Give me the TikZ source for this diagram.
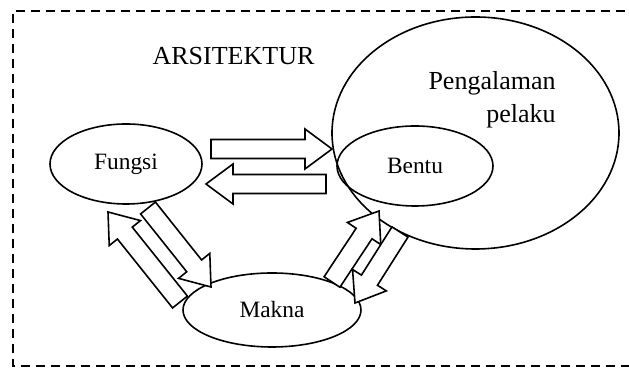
\documentclass[tikz,border=0pt]{standalone}
\usepackage{fontspec}
\setmainfont{Liberation Serif}
\usetikzlibrary{calc,shapes.geometric}

\tikzset{
  elips/.style={draw, ellipse, line width=0.8pt, inner sep=0pt},
  panah/.style={draw, fill=white, line width=0.8pt, line join=miter},
  bingkai/.style={line width=0.7pt, dash pattern=on 4.5pt off 3pt},
  teks/.style={font=\fontsize{11.7}{15}\selectfont, inner sep=0pt},
  judul/.style={font=\fontsize{13}{16.5}\selectfont, inner sep=0pt}
}

% block arrow from #1 to #2
\newcommand{\panahblok}[2]{%
  \coordinate (kepala) at ($(#2)!13.5pt!(#1)$);
  \draw[panah] ($(#1)!4.75pt!90:(#2)$) -- ($(kepala)!4.75pt!90:(#2)$)
    -- ($(kepala)!10pt!90:(#2)$) -- (#2) -- ($(kepala)!10pt!-90:(#2)$)
    -- ($(kepala)!4.75pt!-90:(#2)$) -- ($(#1)!4.75pt!-90:(#2)$) -- cycle;
}

\begin{document}
\begin{tikzpicture}[x=0.5pt, y=-0.5pt]
  \useasboundingbox (0,0) rectangle (629,368);
  \draw[bingkai] (640,11) -- (13,11) -- (13,366) -- (640,366);

  \node[judul] (arsitektur) at (233.5,56) {ARSITEKTUR};

  \node[elips, minimum width=143.5pt, minimum height=116pt] (pengalaman) at (475.5,133) {};
  \node[judul, align=right, anchor=north east] (pelaku) at (556,71) {Pengalaman\\pelaku};

  \node[elips, teks, minimum width=76pt, minimum height=40pt] (fungsi) at (126,164) {Fungsi};
  \node[elips, teks, minimum width=78pt, minimum height=40pt] (bentuk) at (415,166) {Bentu};
  \node[elips, teks, minimum width=89pt, minimum height=37pt] (makna) at (272,310) {Makna};

  \coordinate (fb-1) at (211,149);  \coordinate (fb-2) at (332,149);
  \coordinate (bf-1) at (326,184);  \coordinate (bf-2) at (206,184);
  \coordinate (fm-1) at (148,208);  \coordinate (fm-2) at (211,287);
  \coordinate (mf-1) at (180,302);  \coordinate (mf-2) at (108,212);
  \coordinate (mb-1) at (332,282);  \coordinate (mb-2) at (379,211);
  \coordinate (bm-1) at (400,232);  \coordinate (bm-2) at (355,303);

  \foreach \a in {fb,bf,fm,mf,mb,bm} {\panahblok{\a-1}{\a-2}};
\end{tikzpicture}
\end{document}
